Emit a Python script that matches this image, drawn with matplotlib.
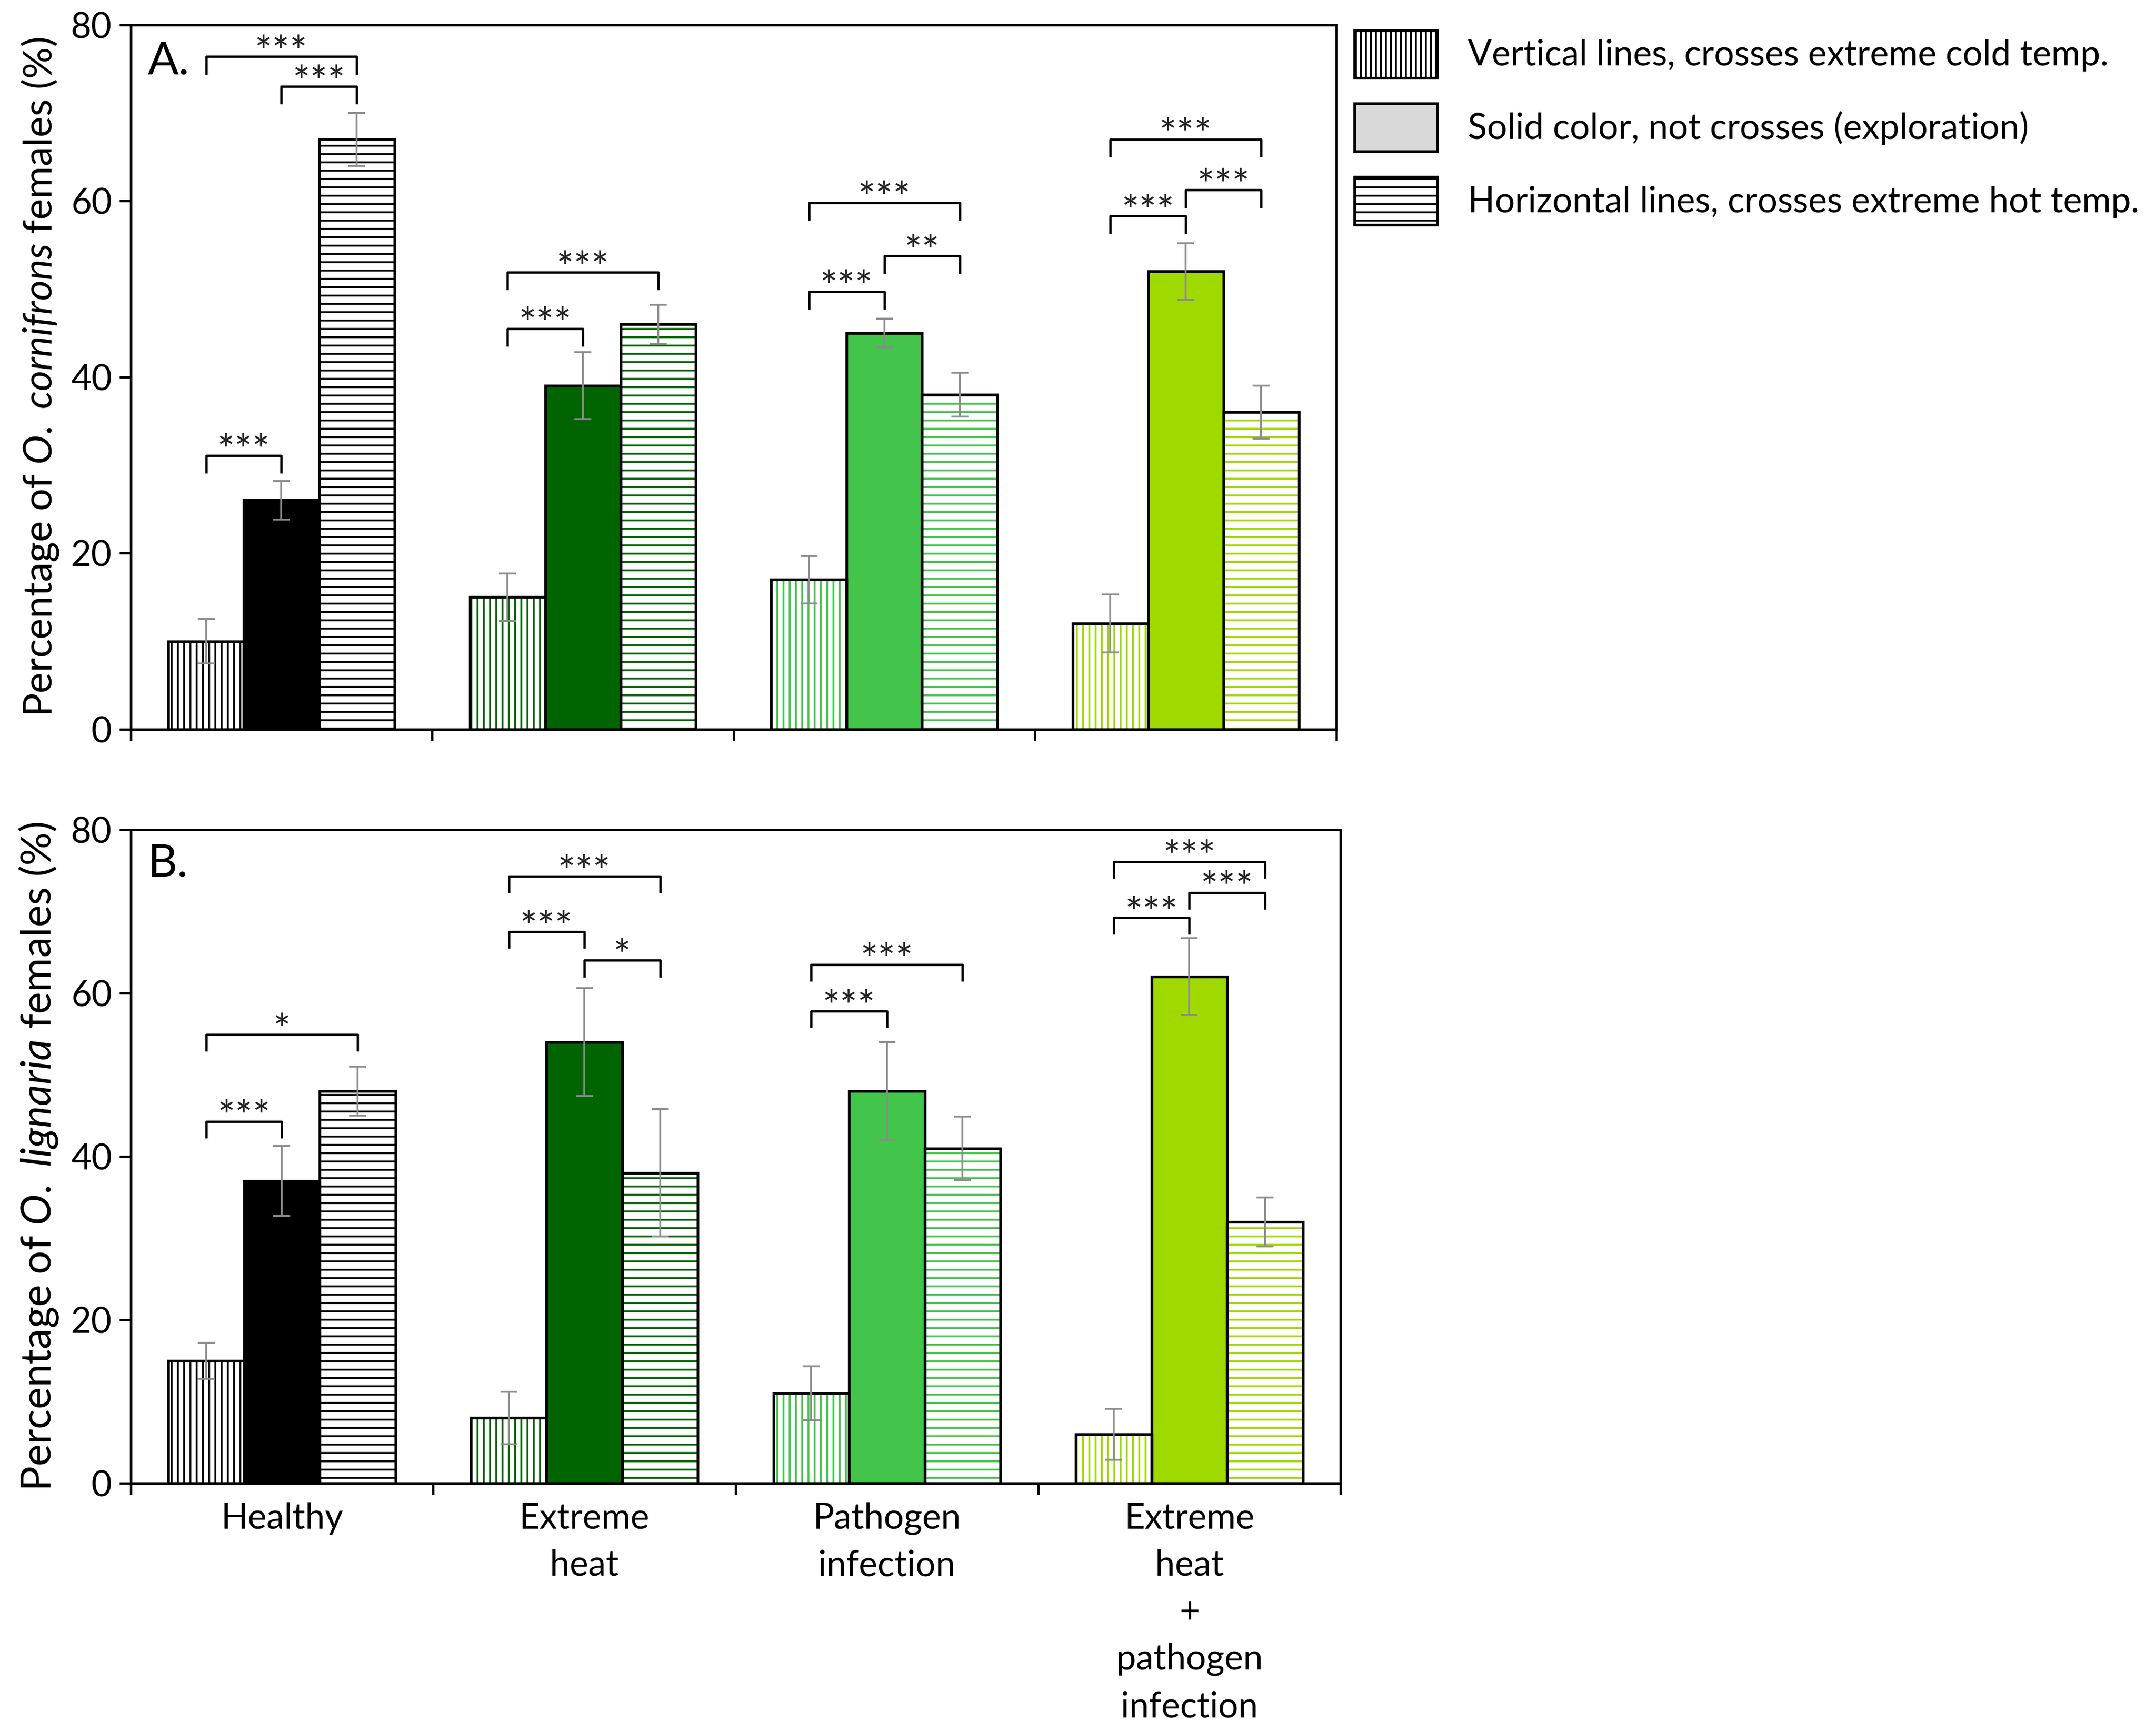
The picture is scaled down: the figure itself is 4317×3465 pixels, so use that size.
import matplotlib
matplotlib.use('Agg')
import matplotlib.pyplot as plt
from matplotlib.patches import Patch

plt.rcParams['font.family'] = ['Lato', 'DejaVu Sans']
plt.rcParams['mathtext.fontset'] = 'custom'
plt.rcParams['mathtext.rm'] = 'Lato'
plt.rcParams['mathtext.it'] = 'Lato:italic'
plt.rcParams['hatch.linewidth'] = 0.9

groups = ['Healthy', 'Extreme\nheat', 'Pathogen\ninfection',
          'Extreme\nheat\n+\npathogen\ninfection']
colors = ['#000000', '#006400', '#43c44b', '#9fd900']
hatches = ['||||', None, '---']

# A: O. cornifrons
a_cold = [10, 15, 17, 12]
a_cold_err = [2.5, 2.7, 2.7, 3.3]
a_expl = [26, 39, 45, 52]
a_expl_err = [2.2, 3.8, 1.6, 3.2]
a_hot = [67, 46, 38, 36]
a_hot_err = [3.0, 2.2, 2.5, 3.0]

# B: O. lignaria
b_cold = [15, 8, 11, 6]
b_cold_err = [2.2, 3.2, 3.3, 3.1]
b_expl = [37, 54, 48, 62]
b_expl_err = [4.3, 6.6, 6.0, 4.7]
b_hot = [48, 38, 41, 32]
b_hot_err = [3.0, 7.8, 3.9, 3.0]

# significance brackets: (group, bar from, bar to, height, label)
a_sig = [(0, 0, 1, 31.1, '***'), (0, 0, 2, 76.4, '***'), (0, 1, 2, 73.0, '***'),
         (1, 0, 1, 45.5, '***'), (1, 0, 2, 51.9, '***'),
         (2, 0, 1, 49.7, '***'), (2, 1, 2, 53.75, '**'), (2, 0, 2, 59.8, '***'),
         (3, 0, 1, 58.3, '***'), (3, 1, 2, 61.25, '***'), (3, 0, 2, 67.0, '***')]
b_sig = [(0, 0, 1, 44.3, '***'), (0, 0, 2, 54.9, '*'),
         (1, 0, 1, 67.5, '***'), (1, 0, 2, 74.3, '***'), (1, 1, 2, 64.0, '*'),
         (2, 0, 1, 57.8, '***'), (2, 0, 2, 63.5, '***'),
         (3, 0, 1, 69.2, '***'), (3, 1, 2, 72.3, '***'), (3, 0, 2, 76.1, '***')]

legend_labels = ['Vertical lines, crosses extreme cold temp.',
                 'Solid color, not crosses (exploration)',
                 'Horizontal lines, crosses extreme hot temp.']

W = 0.25


def xpos(g, k):
    return g + 0.5 + (k - 1) * W


def panel(ax, cold, cold_err, expl, expl_err, hot, hot_err, sig, tag, ylab, ylab_fs):
    series = [(cold, cold_err), (expl, expl_err), (hot, hot_err)]
    for k, (vals, errs) in enumerate(series):
        xs = [xpos(g, k) for g in range(4)]
        for g in range(4):
            if hatches[k] is None:
                ax.bar(xs[g], vals[g], W, color=colors[g], edgecolor='black',
                       linewidth=1.3, zorder=2)
            else:
                ax.bar(xs[g], vals[g], W, facecolor='white', edgecolor=colors[g],
                       hatch=hatches[k], linewidth=0, zorder=2)
                ax.bar(xs[g], vals[g], W, fill=False, edgecolor='black',
                       linewidth=1.3, zorder=3)
        ax.errorbar(xs, vals, yerr=errs, fmt='none', ecolor='#8c8c8c',
                    elinewidth=0.9, capsize=4, capthick=0.9, zorder=4)

    for g, i, j, h, lab in sig:
        x1, x2 = xpos(g, i), xpos(g, j)
        ax.plot([x1, x1, x2, x2], [h - 1.9, h, h, h - 1.9], color='black',
                lw=1.1, zorder=5, clip_on=False)
        ax.annotate(lab, ((x1 + x2) / 2, h), xytext=(0, -4.5),
                    textcoords='offset points', ha='center', va='baseline',
                    fontsize=20, color='#222222')

    ax.set_xlim(0, 4)
    ax.set_ylim(0, 80)
    ax.set_yticks([0, 20, 40, 60, 80])
    ax.set_xticks([0, 1, 2, 3, 4])
    ax.set_xticklabels([])
    ax.tick_params(axis='both', direction='out', length=5.5, width=1.1,
                   labelsize=17)
    for s in ax.spines.values():
        s.set_linewidth(1.2)
    ax.set_ylabel(ylab, fontsize=ylab_fs)
    ax.yaxis.set_label_coords(-0.058, 0.5)
    ax.text(0.014, 0.948, tag, transform=ax.transAxes, fontsize=22,
            ha='left', va='center')


fig = plt.figure(figsize=(14.39, 11.55), dpi=300)
axA = fig.add_axes([0.0606, 0.5787, 0.5593, 0.4070])
axB = fig.add_axes([0.0606, 0.1431, 0.5612, 0.3776])

panel(axA, a_cold, a_cold_err, a_expl, a_expl_err, a_hot, a_hot_err, a_sig,
      'A.', 'Percentage of $\\it{O.\\ cornifrons}$ females (%)', 19)
panel(axB, b_cold, b_cold_err, b_expl, b_expl_err, b_hot, b_hot_err, b_sig,
      'B.', 'Percentage of $\\it{O.\\ lignaria}$ females (%)', 20)

axB.set_xticks([g + 0.5 for g in range(4)], minor=True)
axB.set_xticklabels(groups, minor=True, fontsize=17, linespacing=1.55)
axB.tick_params(axis='x', which='minor', length=0, pad=9)

handles = [Patch(facecolor='white', edgecolor='black', hatch='|||||', linewidth=1.3),
           Patch(facecolor='#d9d9d9', edgecolor='black', linewidth=1.3),
           Patch(facecolor='white', edgecolor='black', hatch='---', linewidth=1.3)]
fig.legend(handles, legend_labels, loc='upper left',
           bbox_to_anchor=(0.6282, 0.9825), frameon=False, fontsize=17,
           handlelength=2.35, handleheight=1.7, labelspacing=0.72,
           handletextpad=0.85, borderpad=0, borderaxespad=0)

fig.savefig('out.png', dpi=300)
